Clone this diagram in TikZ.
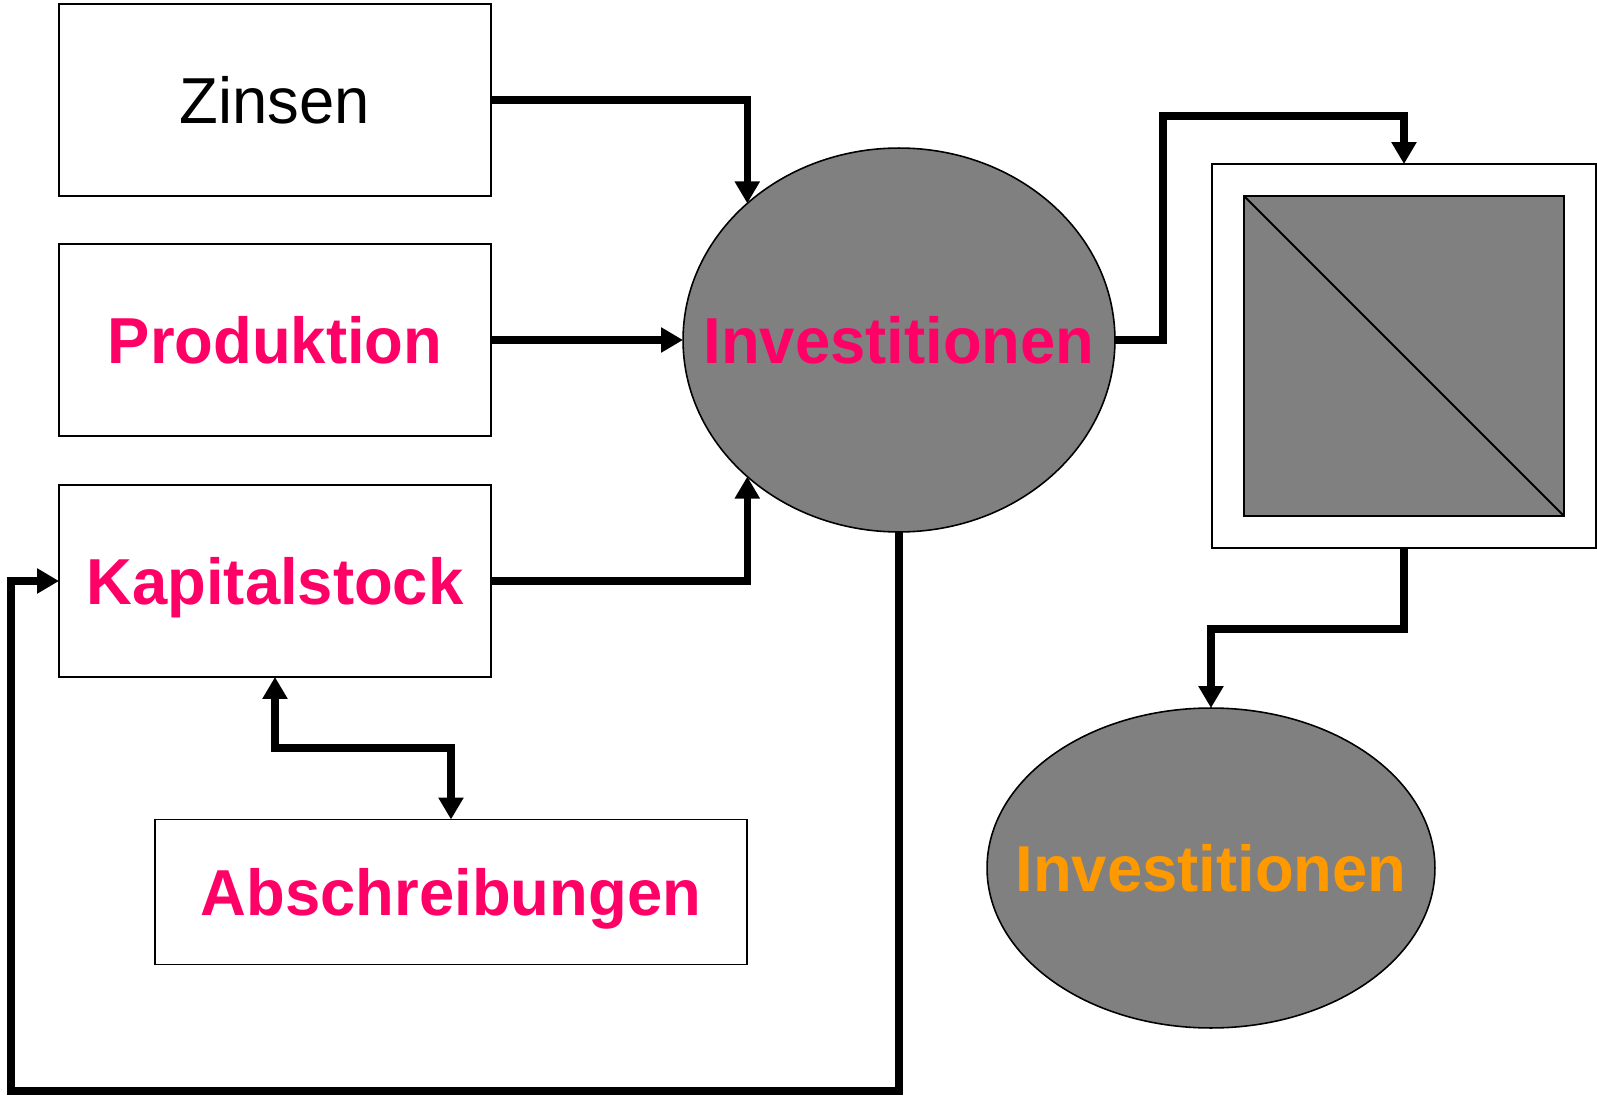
\documentclass[tikz,border=0pt]{standalone}
\usepackage{fontspec}
\setmainfont[FakeStretch=0.975]{Liberation Sans}
\usetikzlibrary{arrows.meta,shapes.geometric}
\definecolor{textpink}{HTML}{FF0066}
\definecolor{textorange}{HTML}{FF9900}
\definecolor{fuellgrau}{HTML}{808080}
\begin{document}
\begin{tikzpicture}[x=0.02cm, y=-0.02cm,
    kasten/.style={draw, line width=1.1pt, fill=white, minimum width=8.64cm, minimum height=3.84cm,
      inner sep=0pt, outer sep=0pt, font=\fontsize{37}{44}\selectfont, text height=26.6pt, text depth=0pt},
    oval/.style={ellipse, draw, line width=0.9pt, fill=fuellgrau, inner sep=0pt, outer sep=0pt},
    ovaltext/.style={font=\fontsize{37}{44}\selectfont\bfseries, text height=26.6pt, text depth=0pt, inner sep=0pt},
    pfeil/.style={line width=4pt, -{Triangle[width=0.48cm,length=0.44cm]}},
    doppel/.style={line width=4pt, {Triangle[width=0.48cm,length=0.44cm]}-{Triangle[width=0.48cm,length=0.44cm]}}]
  \useasboundingbox (0,0) rectangle (1597,1098);

  \node[kasten] (zins) at (275,100) {Zinsen};
  \node[kasten, text=textpink, font=\fontsize{37}{44}\selectfont\bfseries] (prod) at (275,340) {Produktion};
  \node[kasten, text=textpink, font=\fontsize{37}{44}\selectfont\bfseries] (kap) at (275,581) {Kapitalstock};
  \node[kasten, text=textpink, font=\fontsize{37}{44}\selectfont\bfseries,
    minimum width=11.84cm, minimum height=2.9cm] (abs) at (451,892) {Abschreibungen};

  \node[oval, minimum width=8.64cm, minimum height=7.68cm] (inv1) at (899,340) {};
  \node[ovaltext, text=textpink] (inv1text) at (inv1) {Investitionen};
  \node[oval, minimum width=8.96cm, minimum height=6.4cm] (inv2) at (1211,868) {};
  \node[ovaltext, text=textorange] (inv2text) at (inv2) {Investitionen};

  \node[draw, line width=1.1pt, fill=white, minimum size=7.68cm, inner sep=0pt, outer sep=0pt] (rahmen) at (1404,356) {};
  \node[draw, line width=1.1pt, fill=fuellgrau, minimum size=6.4cm, inner sep=0pt, outer sep=0pt] (bild) at (1404,356) {};
  \draw[line width=1.1pt] (bild.north west) -- (bild.south east);

  \coordinate (c1) at (1163,116);
  \coordinate (c2) at (1211,629);
  \coordinate (c3) at (11,1091);
  \coordinate (c4) at (451,748);

  \draw[pfeil] (zins.east) -| (inv1.138);
  \draw[pfeil] (prod.east) -- (inv1.west);
  \draw[pfeil] (kap.east) -| (inv1.222);
  \draw[pfeil] (inv1.east) -| (c1) -| (rahmen.north);
  \draw[pfeil] (rahmen.south) |- (c2) -- (inv2.north);
  \draw[pfeil] (inv1.south) |- (c3) |- (kap.west);
  \draw[doppel] (kap.south) |- (c4) -- (abs.north);
\end{tikzpicture}
\end{document}
